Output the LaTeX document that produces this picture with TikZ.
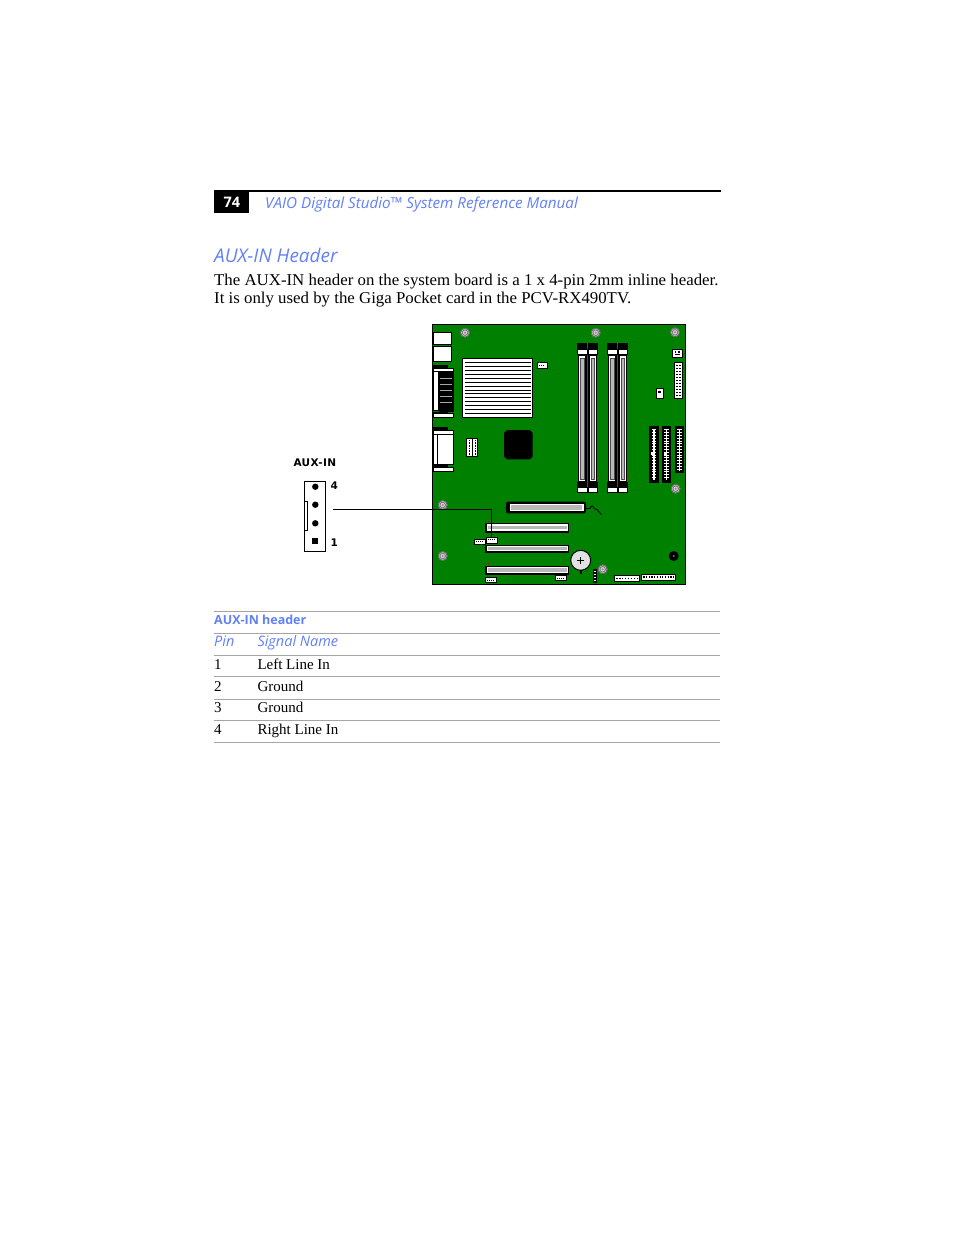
\documentclass[tikz,border=0pt]{standalone}
\usepackage{fontspec}
\setmainfont[FakeStretch=1.02]{Liberation Serif}
\newfontfamily\rowfont{Liberation Serif}
\newfontfamily\hsans{Open Sans}
\newfontfamily\bsans[LetterSpace=4]{DejaVu Sans}
\definecolor{sonyblue}{RGB}{98,128,250}
\definecolor{pcbgreen}{RGB}{0,128,0}
\definecolor{slotgray}{RGB}{185,185,185}
\definecolor{rulegray}{RGB}{165,165,165}
\definecolor{holegray}{RGB}{212,212,212}
\tikzset{
  txt/.style={inner sep=0pt, anchor=base west},
  tablerule/.style={draw=rulegray, line width=0.9pt},
  wbox/.style={fill=white, draw=black, line width=0.7pt},
  pinmark/.style={fill=red!85!black},
}
\newcommand{\mhole}[2]{%
  \fill[holegray] (#1,#2) circle (4.7);
  \draw[black!60, line width=0.9pt] (#1,#2) circle (4.4);
  \draw[black!55, line width=0.8pt] (#1,#2) circle (2.8);
  \fill[black!45] (#1,#2) circle (1.1);
}
\newcommand{\pcislot}[4]{%
  \fill[black] (#1,#2) rectangle (#3,#4);
  \fill[white] (#1+1.6,#2+1) rectangle (#3-0.6,#4-2);
  \fill[slotgray] (#1+2.8,#2+2.4) rectangle (#3-2,#4-3.4);
}
\newcommand{\smallconn}[4]{%
  \draw[wbox] (#1,#2) rectangle (#3,#4);
  \draw[black, line width=0.6pt, dash pattern=on 1pt off 1pt] (#1+2,#2/2+#4/2) -- (#3-2,#2/2+#4/2);
}
\begin{document}
\begin{tikzpicture}[x=1pt,y=-1pt]
\useasboundingbox (0,0) rectangle (954,1235);
\fill[white] (0,0) rectangle (954,1235);

% ---------- page header ----------
\draw[black, line width=1.8pt] (214,191) -- (721,191);
\fill[black] (214,190) rectangle (249.3,213.3);
\node[txt, text=white, font=\hsans\bfseries\fontsize{14.5}{16}\selectfont] (pagenum) at (223.3,207.7) {74};
\node[txt, text=sonyblue, font=\hsans\itshape\fontsize{15.2}{17}\selectfont] (runhead) at (265,208.3) {VAIO Digital Studio™ System Reference Manual};

% ---------- section title and body ----------
\node[txt, text=sonyblue, font=\hsans\itshape\fontsize{18.9}{21}\selectfont] (title) at (214,262.3) {AUX-IN Header};
\node[txt, font=\fontsize{16.5}{18}\selectfont] (body1) at (214,285) {The AUX-IN header on the system board is a 1 x 4-pin 2mm inline header.};
\node[txt, font=\fontsize{16.5}{18}\selectfont] (body2) at (214,303) {It is only used by the Giga Pocket card in the PCV-RX490TV.};

% ---------- system board ----------
\fill[pcbgreen] (432.7,324.7) rectangle (685.3,584.3);
\draw[black, line width=1.2pt] (432.7,324.7) rectangle (685.3,584.3);

% mounting holes
\mhole{465}{332.7}
\mhole{595.7}{332.7}
\mhole{675}{332.3}
\mhole{442.7}{505}
\mhole{675.7}{488.7}
\mhole{442.7}{556}
\mhole{602.7}{569.3}

% rear I/O blocks top-left
\draw[wbox] (433.3,332.7) rectangle (451.3,344.3);
\draw[wbox] (433.3,346.7) rectangle (451.3,361.3);

% serial port
\fill[black] (433.3,365) rectangle (448,368);
\draw[wbox, line width=0.6pt] (433.3,368) rectangle (453.5,371.7);
\fill[black] (438.5,371.7) rectangle (453.5,412);
\foreach \yy in {378,384,390,396,402}{\draw[black!35, line width=0.5pt] (440,\yy) -- (452,\yy);}
\draw[wbox, line width=0.6pt] (433.3,371.7) rectangle (438.5,410.5);
\fill[black] (433.3,412) rectangle (448,413.5);
\draw[wbox, line width=0.6pt] (433.3,413.5) rectangle (453.5,417.3);

% VGA-like port
\fill[black] (433.3,426.7) rectangle (448,430);
\draw[wbox, line width=0.6pt] (433.3,430) rectangle (453.5,434);
\draw[wbox] (433.3,434) rectangle (453.5,464);
\draw[black, line width=0.6pt] (437,434) -- (437,464);
\fill[black] (433.3,464) rectangle (448,467.3);
\draw[wbox, line width=0.6pt] (433.3,467.3) rectangle (453.5,471.7);

% heatsink
\draw[fill=white, draw=black, line width=1pt] (462.3,358.3) rectangle (532.7,417.3);
\foreach \i in {0,...,13}{
  \draw[black, line width=0.7pt] (464.5,362.6+\i*3.9) -- (530.5,362.6+\i*3.9);
}
\draw[black, line width=1.5pt] (464.5,362.6) -- (530.5,362.6);
\draw[black, line width=1.5pt] (464.5,362.6+9*3.9) -- (530.5,362.6+9*3.9);
\smallconn{537.3}{362.7}{547.3}{368.3}
\fill[pinmark] (539,361.7) rectangle (540,362.7);

% small headers under I/O
\draw[wbox] (466,438) rectangle (472,456.7);
\draw[wbox] (472,438) rectangle (477.7,456.7);
\draw[black, line width=0.5pt, dash pattern=on 0.8pt off 0.8pt] (469,440) -- (469,455);
\draw[black, line width=0.5pt, dash pattern=on 0.8pt off 0.8pt] (475,440) -- (475,455);
\fill[pinmark] (465,453.5) rectangle (466,454.5);

% chipset
\fill[black] (507,430) -- (530,430) -- (532.7,433) -- (532.7,456.5) -- (530,459.3) -- (507,459.3) -- (504,456.5) -- (504,433) -- cycle;

% memory slots
\foreach \x in {577.3,588,607.3,618}{
  \fill[black] (\x,343) rectangle (\x+9.5,349);
  \draw[wbox, line width=0.6pt] (\x,349) rectangle (\x+9.5,354.5);
  \fill[black] (\x+0.3,354.5) rectangle (\x+9.2,482);
  \fill[white] (\x+1.6,356) rectangle (\x+7.9,480.5);
  \fill[slotgray] (\x+3,358) rectangle (\x+6.6,479);
  \draw[black!70, line width=0.4pt] (\x+3,358) rectangle (\x+6.6,479);
  \fill[black] (\x,482) rectangle (\x+9.5,487.5);
  \draw[wbox, line width=0.6pt] (\x,487.5) rectangle (\x+9.5,492.5);
  \fill[pinmark] (\x+9.6,476) rectangle (\x+10.6,477);
}

% right-top connectors
\draw[wbox] (672,349) rectangle (682,357);
\fill[black] (674.5,351.3) rectangle (676.3,352.8);
\fill[black] (677.7,351.3) rectangle (679.5,352.8);
\fill[black] (674.5,353.8) rectangle (679.5,355);
\draw[wbox] (674.3,362.7) rectangle (682.3,398);
\foreach \i in {0,...,10}{
  \fill[black] (675.8,365+\i*3) rectangle (677.8,366.3+\i*3);
  \fill[black] (678.8,365+\i*3) rectangle (680.8,366.3+\i*3);
}
\draw[wbox] (656,388) rectangle (663.3,398);
\fill[black] (658,390.5) rectangle (661.3,393);
\fill[pinmark] (654.5,397) rectangle (655.5,398);
\fill[pinmark] (672.8,396.5) rectangle (673.8,397.5);

% right vertical headers
\foreach \xa/\xb/\yb in {649.3/658.7/482.7, 662/671.3/482.7, 675.3/684/473.3}{
  \fill[black] (\xa,426) rectangle (\xb,\yb);
  \draw[white, line width=1.2pt] (\xa/2+\xb/2,428.5) -- (\xa/2+\xb/2,\yb-2.5);
  \foreach \t in {0,...,17}{
    \pgfmathsetmacro{\ty}{429.5+\t*2.8}
    \pgfmathparse{\ty<\yb-3 ? 1 : 0}
    \ifnum\pgfmathresult=1
      \draw[white, line width=0.4pt] (\xa/2+\xb/2-2.2,\ty) -- (\xa/2+\xb/2+2.2,\ty);
    \fi
  }
}
\fill[white] (650.8,451.5) rectangle (653.8,454.5);
\fill[white] (663.5,451.5) rectangle (666.5,454.5);
\fill[pinmark] (647,430) rectangle (648.3,431.3);
\fill[pinmark] (659.5,430) rectangle (660.8,431.3);
\fill[pinmark] (684.5,467) rectangle (685.3,468.3);

% AGP slot
\fill[black, rounded corners=2pt] (506,501.7) rectangle (586,513.3);
\fill[black] (508.5,507.5) circle (3);
\fill[white] (509.5,503.5) rectangle (583.5,511);
\fill[slotgray] (511,505) rectangle (582,509.5);
\draw[black, line width=0.9pt] (586,508.5) -- (590,508.5) .. controls (591,505) and (593,505) .. (594,508.5) -- (597,509.5) -- (601.3,514.5);

% PCI slots
\pcislot{485}{523.3}{569}{532.7}
\pcislot{485}{545}{569}{553.3}
\pcislot{485}{566}{569}{575}
\fill[pinmark] (488,520.5) rectangle (489.3,521.8);
\fill[pinmark] (488,542) rectangle (489.3,543.3);
\fill[pinmark] (488,563.3) rectangle (489.3,564.6);

% small connectors near PCI
\smallconn{474}{539}{485}{544.3}
\fill[pinmark] (481,544.3) rectangle (482.3,545.6);
\node[wbox, inner sep=0pt, minimum width=10.7pt, minimum height=6pt, anchor=north west] (bauxin) at (486,536.7) {};
\draw[black, line width=0.6pt, dash pattern=on 1pt off 1pt] (488,539.7) -- (494.7,539.7);
\smallconn{485}{577.3}{496}{582.7}
\smallconn{555}{575}{566}{580.7}
\fill[pinmark] (563,580.7) rectangle (564.3,582);

% battery
\draw[fill=holegray!70, draw=black, line width=1pt] (580.7,560.3) circle (10);
\fill[black] (579.7,570) rectangle (581.7,573.5);
\draw[black, line width=1.3pt] (577.2,560.3) -- (584.2,560.3);
\draw[black, line width=1.3pt] (580.7,556.8) -- (580.7,563.8);

% small vertical header bottom
\fill[black] (593.3,569.3) rectangle (596.7,582.7);
\foreach \i in {0,...,3}{\fill[white] (594.1,571+\i*3) rectangle (595.9,572.2+\i*3);}

% bottom-right headers
\draw[wbox] (614.3,575.3) rectangle (639.3,581);
\foreach \i in {0,...,7}{\fill[black] (616.3+\i*2.9,577.5) rectangle (617.6+\i*2.9,578.8);}
\draw[wbox] (641.3,574.3) rectangle (675.3,580);
\foreach \i in {0,...,11}{\fill[black] (643.3+\i*2.7,576.2) rectangle (644.5+\i*2.7,578.2);}

% black speaker / jumper
\fill[black] (673.7,556) circle (5);
\fill[black!55] (673.7,556) circle (1.1);

% ---------- AUX-IN header drawing ----------
\node[txt, font=\bsans\bfseries\fontsize{10.5}{12}\selectfont] (auxlabel) at (293.3,466) {AUX-IN};
\node[draw=black, line width=0.8pt, fill=white, inner sep=0pt, minimum width=20.7pt, minimum height=70pt, anchor=north west] (auxhdr) at (304.3,480.7) {};
\draw[black, line width=0.8pt] (auxhdr.west |- 0,501.7) -| (307.3,530) -- (auxhdr.west |- 0,530);
\fill[black] (315.3,486.7) circle (3.2);
\fill[black] (315.3,504.7) circle (3.2);
\fill[black] (315.3,523.3) circle (3.2);
\fill[black] (312.3,538.3) rectangle (318.3,544.3);
\node[txt, font=\bsans\bfseries\fontsize{10.5}{12}\selectfont] (pinfour) at (330.5,489.5) {4};
\node[txt, font=\bsans\bfseries\fontsize{10.5}{12}\selectfont] (pinone) at (330.5,546.3) {1};
\coordinate (auxlinestart) at (333.3,509.3);
\draw[black, line width=0.8pt] (auxlinestart) -| (bauxin.north);

% ---------- table ----------
\foreach \yy in {611.7,633.3,655,676.7,699,720.7,742}{
  \draw[tablerule] (214,\yy) -- (720,\yy);
}
\node[txt, text=sonyblue, font=\hsans\bfseries\fontsize{12.5}{14}\selectfont] (tabtitle) at (214,624.3) {AUX-IN header};
\node[txt, text=sonyblue, font=\hsans\itshape\fontsize{14.5}{16}\selectfont] (colpin) at (214,646.7) {Pin};
\node[txt, text=sonyblue, font=\hsans\itshape\fontsize{14.5}{16}\selectfont] (colsig) at (257.3,646.7) {Signal Name};
\node[txt, font=\rowfont\fontsize{15}{17}\selectfont] (pa) at (214,669) {1};
\node[txt, font=\rowfont\fontsize{15}{17}\selectfont] (sa) at (257.3,669) {Left Line In};
\node[txt, font=\rowfont\fontsize{15}{17}\selectfont] (pb) at (214,691) {2};
\node[txt, font=\rowfont\fontsize{15}{17}\selectfont] (sb) at (257.3,691) {Ground};
\node[txt, font=\rowfont\fontsize{15}{17}\selectfont] (pc) at (214,712.7) {3};
\node[txt, font=\rowfont\fontsize{15}{17}\selectfont] (sc) at (257.3,712.7) {Ground};
\node[txt, font=\rowfont\fontsize{15}{17}\selectfont] (pd) at (214,734.3) {4};
\node[txt, font=\rowfont\fontsize{15}{17}\selectfont] (sd) at (257.3,734.3) {Right Line In};
\end{tikzpicture}
\end{document}
